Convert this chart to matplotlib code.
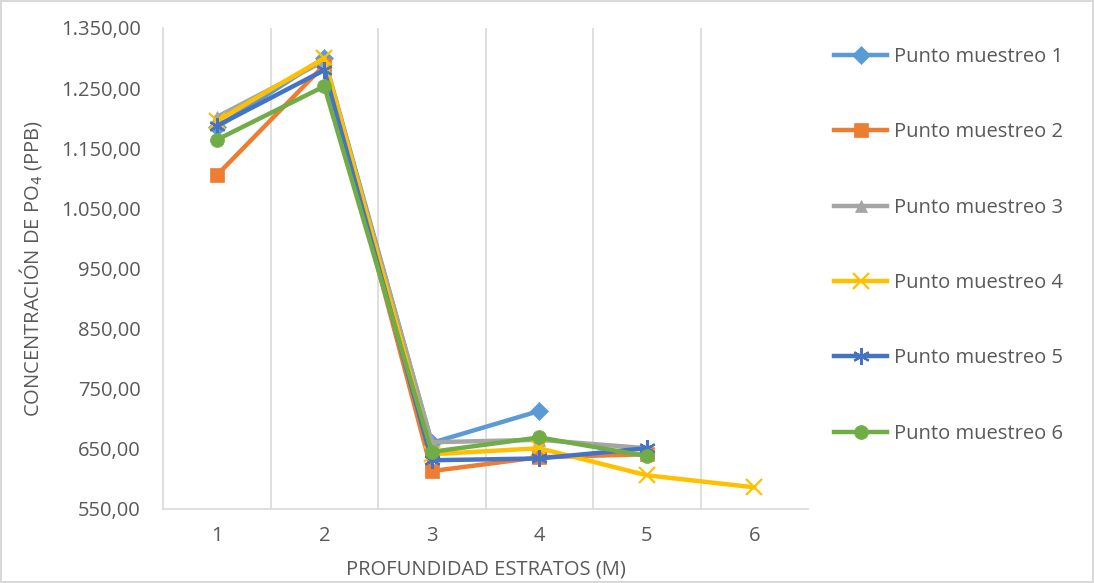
import matplotlib.pyplot as plt
import numpy as np
from matplotlib.ticker import FuncFormatter

plt.rcParams["font.family"] = ["Open Sans", "DejaVu Sans"]

depth = [1, 2, 3, 4, 5, 6]
labels = [f"Punto muestreo {i}" for i in range(1, 7)]
punto1 = [1185, 1300, 660, 713, np.nan, np.nan]
punto2 = [1105, 1288, 613, 636, 641, np.nan]
punto3 = [1202, 1295, 661, 665, 651, np.nan]
punto4 = [1195, 1300, 641, 651, 606, 586]
punto5 = [1187, 1280, 631, 634, 651, np.nan]
punto6 = [1164, 1253, 645, 669, 638, np.nan]
series = [punto1, punto2, punto3, punto4, punto5, punto6]

colors = ["#5B9BD5", "#ED7D31", "#A5A5A5", "#FFC000", "#4472C4", "#70AD47"]
markers = ["D", "s", "^", "x", (6, 2, 0), "o"]
sizes = [9, 10, 9, 12, 12, 10]
TEXT = "#595959"
FS = 14.5


def es_format(v, _pos):
    s = f"{v:,.2f}"
    return s.replace(",", "X").replace(".", ",").replace("X", ".")


fig = plt.figure(figsize=(10.94, 5.83), dpi=100)
fig.patch.set_edgecolor("#D9D9D9")
fig.patch.set_linewidth(1.5)
ax = fig.add_axes([0.149, 0.127, 0.5896, 0.825])

for vals, lab, col, mk, ms in zip(series, labels, colors, markers, sizes):
    thin = mk == "x" or isinstance(mk, tuple)
    ax.plot(depth, vals, color=col, linewidth=3.2, marker=mk, markersize=ms,
            markeredgewidth=1.6 if thin else 0.5,
            markeredgecolor=col, markerfacecolor=col, label=lab)

ax.set_xlim(0.5, 6.5)
ax.set_ylim(550, 1350)
ax.set_yticks(np.arange(550, 1351, 100))
ax.yaxis.set_major_formatter(FuncFormatter(es_format))
ax.set_xticks(depth)
for xv in np.arange(1.5, 6.0, 1.0):
    ax.axvline(xv, color="#D9D9D9", linewidth=1.2, zorder=0)

for side in ("top", "right"):
    ax.spines[side].set_visible(False)
for side in ("left", "bottom"):
    ax.spines[side].set_color("#D9D9D9")
    ax.spines[side].set_linewidth(1.2)
ax.tick_params(axis="y", length=0, labelsize=FS, colors=TEXT, pad=16)
ax.tick_params(axis="x", length=0, labelsize=FS, colors=TEXT, pad=12)

ax.set_xlabel("PROFUNDIDAD ESTRATOS (M)", fontsize=FS, color=TEXT)
ax.set_ylabel("CONCENTRACIÓN DE PO$_4$ (PPB)", fontsize=FS, color=TEXT)
ax.xaxis.set_label_coords(0.5, -0.106)
ax.yaxis.set_label_coords(-0.184, 0.5)

leg = ax.legend(loc="center left", bbox_to_anchor=(1.040, 0.548), frameon=False,
                fontsize=FS, labelspacing=2.75, handlelength=2.65, handletextpad=0.35,
                borderaxespad=0, borderpad=0)
for t in leg.get_texts():
    t.set_color(TEXT)

fig.savefig("out.png", dpi=100)
